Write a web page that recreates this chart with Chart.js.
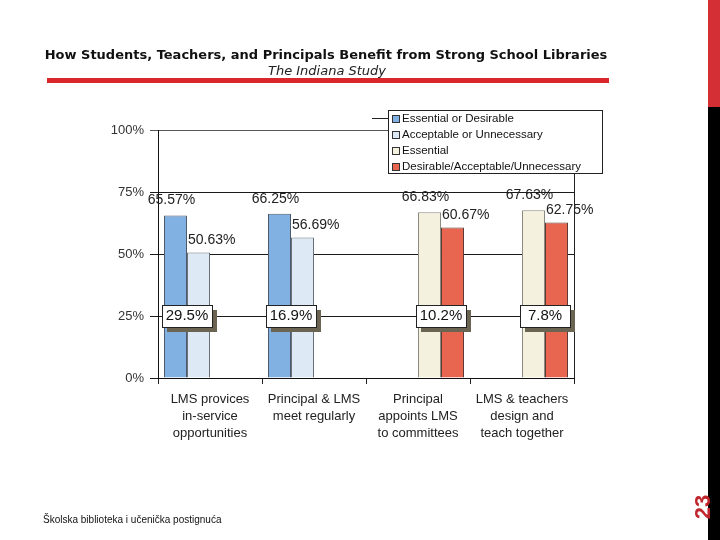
<!DOCTYPE html>
<html>
<head>
<meta charset="utf-8">
<script src="https://cdn.jsdelivr.net/npm/chart.js@4.4.1/dist/chart.umd.min.js"></script>
<style>
  html, body { margin: 0; padding: 0; background: #fff; }
  #wrap { position: relative; width: 720px; height: 540px; overflow: hidden; background: #fff; }
  #c { position: absolute; left: 0; top: 0; width: 720px; height: 540px; }
  #title { position: absolute; left: 0; width: 652px; top: 47px; text-align: center;
    font: bold 13px "DejaVu Sans", sans-serif; color: #111; white-space: nowrap; }
  #subtitle { position: absolute; left: 0; width: 654px; top: 63px; text-align: center;
    font: italic 13px "DejaVu Sans", sans-serif; color: #222; white-space: nowrap; }
  #redline { position: absolute; left: 47px; top: 78px; width: 562px; height: 5px; background: #d8262b; }
  #sideRed { position: absolute; left: 708px; top: 0; width: 12px; height: 107px; background: #d32f34; }
  #sideBlack { position: absolute; left: 708px; top: 107px; width: 12px; height: 433px; background: #000; }
  #pagenum { position: absolute; left: 686px; top: 494px; width: 34px; height: 26px; text-align: center;
    font: bold 22px "Liberation Sans", Arial, sans-serif; color: #c0272d; transform: rotate(-90deg); line-height: 26px; }
  #footer { position: absolute; left: 43px; top: 514px; font: 10px "Liberation Sans", Arial, sans-serif; color: #111; white-space: nowrap; }
</style>
</head>
<body>
<div id="wrap">
  <canvas id="c" width="720" height="540"></canvas>
  <div id="title">How Students, Teachers, and Principals Benefit from Strong School Libraries</div>
  <div id="subtitle">The Indiana Study</div>
  <div id="redline"></div>
  <div id="sideRed"></div>
  <div id="sideBlack"></div>
  <div id="pagenum">23</div>
  <div id="footer">Školska biblioteka i učenička postignuća</div>
</div>
<script>
// ---- data ----
const categories = [
  ["LMS provices", "in-service", "opportunities"],
  ["Principal & LMS", "meet regularly"],
  ["Principal", "appoints LMS", "to committees"],
  ["LMS & teachers", "design and", "teach together"]
];
const seriesNames = ["Essential or Desirable", "Acceptable or Unnecessary", "Essential", "Desirable/Acceptable/Unnecessary"];
const essentialOrDesirable = [65.57, 66.25, null, null];
const acceptableOrUnnecessary = [50.63, 56.69, null, null];
const essential = [null, null, 66.83, 67.63];
const desirableAcceptableUnnecessary = [null, null, 60.67, 62.75];
const differenceValues = ["29.5%", "16.9%", "10.2%", "7.8%"];
const yTicks = [0, 25, 50, 75, 100];

const fills = ["#80b1e2", "#dde9f5", "#f4f1de", "#e8654f"];
const borders = ["#4d5a6a", "#6a7078", "#8a8a80", "#5a3a35"];

const seriesData = [essentialOrDesirable, acceptableOrUnnecessary, essential, desirableAcceptableUnnecessary];

const overlayPlugin = {
  id: 'overlay',
  afterDatasetsDraw(chart) {
    const ctx = chart.ctx;
    const ca = chart.chartArea;
    const y = chart.scales.y;
    ctx.save();
    // right border of plot
    ctx.strokeStyle = '#222';
    ctx.lineWidth = 1;
    ctx.beginPath();
    ctx.moveTo(Math.round(ca.right) + 0.5, 172);
    ctx.lineTo(Math.round(ca.right) + 0.5, ca.bottom);
    ctx.stroke();

    // value labels
    ctx.fillStyle = '#222';
    ctx.font = '14px "Liberation Sans", Arial, sans-serif';
    ctx.textBaseline = 'middle';
    chart.data.datasets.forEach((ds, d) => {
      const meta = chart.getDatasetMeta(d);
      ds.data.forEach((v, i) => {
        if (v === null) return;
        const bar = meta.data[i];
        const w = bar.width;
        const txt = v.toFixed(2) + '%';
        if (d % 2 === 0) {
          ctx.textAlign = 'center';
          ctx.fillText(txt, bar.x - 4, bar.y - 15);
        } else {
          ctx.textAlign = 'left';
          ctx.fillText(txt, bar.x - w / 2 + 1, bar.y - 12);
        }
      });
    });

    // difference boxes
    const yc = y.getPixelForValue(25);
    chart.data.labels.forEach((lab, i) => {
      let first = null;
      for (let d = 0; d < chart.data.datasets.length; d++) {
        if (chart.data.datasets[d].data[i] !== null) { first = chart.getDatasetMeta(d).data[i]; break; }
      }
      if (!first) return;
      const cx = first.x + first.width / 2;
      const bw = 50, bh = 22;
      const bx = Math.round(cx - bw / 2), by = Math.round(yc - bh / 2);
      ctx.fillStyle = '#6b6452';
      ctx.fillRect(bx + 5, by + 5, bw, bh);
      ctx.fillStyle = '#fff';
      ctx.fillRect(bx, by, bw, bh);
      ctx.strokeStyle = '#222';
      ctx.strokeRect(bx + 0.5, by + 0.5, bw, bh);
      ctx.fillStyle = '#111';
      ctx.font = '15px "Liberation Sans", Arial, sans-serif';
      ctx.textAlign = 'center';
      ctx.textBaseline = 'middle';
      ctx.fillText(differenceValues[i], cx, yc);
    });

    // legend
    const lx = 388, ly = 110, lw = 214, lh = 63;
    ctx.fillStyle = '#fff';
    ctx.fillRect(lx, ly, lw, lh);
    ctx.strokeStyle = '#222';
    ctx.strokeRect(lx + 0.5, ly + 0.5, lw, lh);
    ctx.beginPath();
    ctx.moveTo(372, 118.5); ctx.lineTo(lx, 118.5); ctx.stroke();
    ctx.font = '11.5px "Liberation Sans", Arial, sans-serif';
    ctx.textAlign = 'left';
    ctx.textBaseline = 'middle';
    seriesNames.forEach((n, k) => {
      const ey = ly + 9 + k * 16;
      ctx.fillStyle = fills[k];
      ctx.fillRect(lx + 4, ey - 4, 8, 8);
      ctx.strokeStyle = '#333';
      ctx.strokeRect(lx + 4.5, ey - 3.5, 7, 7);
      ctx.fillStyle = '#111';
      ctx.fillText(n, lx + 14, ey);
    });
    ctx.restore();
  }
};

new Chart(document.getElementById('c'), {
  type: 'bar',
  data: {
    labels: categories,
    datasets: seriesData.map((arr, k) => ({
      label: seriesNames[k],
      data: arr,
      backgroundColor: fills[k],
      borderColor: borders[k],
      borderWidth: 1,
      borderSkipped: 'bottom',
      categoryPercentage: 0.885,
      barPercentage: 1.0
    }))
  },
  options: {
    responsive: false,
    animation: false,
    events: [],
    layout: { padding: { left: 0, right: 146, top: 130, bottom: 92 } },
    plugins: { legend: { display: false }, tooltip: { enabled: false }, title: { display: false } },
    scales: {
      x: {
        offset: true,
        grid: { display: true, drawOnChartArea: false, color: '#222', tickLength: 6, offset: true },
        border: { display: true, color: '#111', width: 1 },
        ticks: {
          color: '#222', padding: 7,
          font: { family: '"Liberation Sans", Arial, sans-serif', size: 13, lineHeight: 1.3 },
          maxRotation: 0, autoSkip: false
        },
        afterFit: s => { s.height = 70; }
      },
      y: {
        min: 0, max: 100,
        afterBuildTicks: s => { s.ticks = yTicks.map(v => ({ value: v })); },
        grid: {
          color: ctx => (ctx.tick && ctx.tick.value === 100) ? '#555' : '#1a1a1a',
          tickLength: 8, lineWidth: 1
        },
        border: { display: true, color: '#111', width: 1 },
        ticks: {
          color: '#333', padding: 6,
          font: { family: '"Liberation Sans", Arial, sans-serif', size: 13 },
          callback: v => v + '%'
        },
        afterFit: s => { s.width = 158; }
      }
    }
  },
  plugins: [overlayPlugin]
});
</script>
</body>
</html>
